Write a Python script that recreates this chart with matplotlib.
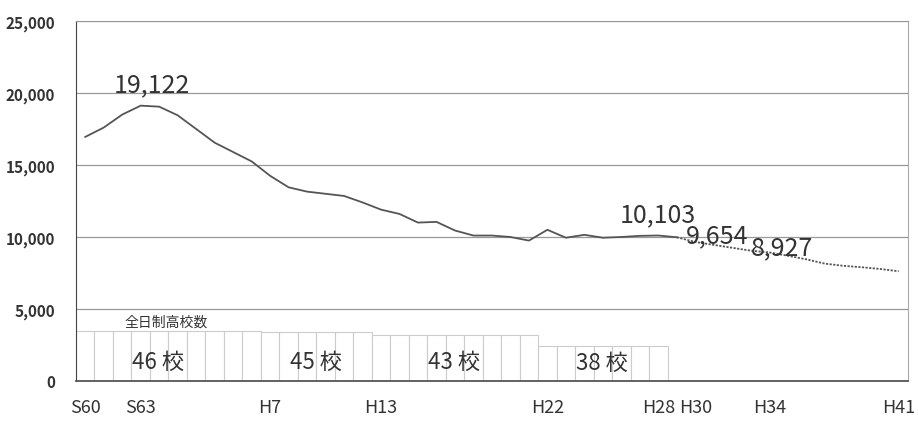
import numpy as np
import matplotlib.pyplot as plt

plt.rcParams['font.family'] = ['Noto Sans CJK JP', 'DejaVu Sans']

# 年度 (S60 = 1985 ... H41 = 2029)
years = list(range(1985, 2030))
tick_years = [1985, 1988, 1995, 2001, 2010, 2016, 2018, 2022, 2029]
tick_labels = ["S60", "S63", "H7", "H13", "H22", "H28", "H30", "H34", "H41"]

# 中学校卒業者数 実績 (S60-H29)
actual = [16950, 17600, 18500, 19122, 19050, 18450, 17500, 16550, 15900, 15250,
          14250, 13450, 13150, 13000, 12850, 12400, 11900, 11600, 11000, 11050,
          10450, 10100, 10100, 10000, 9750, 10500, 9950, 10150, 9950, 10000,
          10080, 10103, 9980]
# 推計 (H29-H41)
forecast = [9980, 9654, 9450, 9250, 9050, 8927, 8700, 8450, 8150, 8000,
            7900, 7780, 7620]

# 全日制高校数 (S60-H28)
school_counts = [46, 45, 43, 38]
school_years = [10, 6, 9, 7]
school_bar_h = [3490, 3400, 3190, 2450]

notes = [(1988, 19122, "19,122"), (2016, 10103, "10,103"),
         (2018, 9654, "9,654"), (2022, 8927, "8,927")]

x_act = np.arange(len(actual))
x_fc = np.arange(len(actual) - 1, len(actual) - 1 + len(forecast))

fig = plt.figure(figsize=(9.18, 4.27), dpi=100)
ax = fig.add_axes([0.0828, 0.1054, 0.9062, 0.8431])

# 高校数の棒
label_pos = [(3.93, 1390), (12.48, 1390), (19.97, 1390), (27.95, 1290)]
start = 0
for cnt, n, h, (lx, ly) in zip(school_counts, school_years, school_bar_h, label_pos):
    xs = np.arange(start, start + n)
    ax.bar(xs, [h] * n, width=1.0, color="white", edgecolor="#cccccc",
           linewidth=0.8, zorder=2)
    ax.text(lx, ly, f"{cnt} 校", ha="center", va="center",
            fontsize=16, color="#333333", zorder=4)
    start += n
ax.text(2.15, 4150, "全日制高校数", fontsize=10, color="#333333", ha="left",
        va="center", zorder=4)

ax.plot(x_act, actual, color="#555555", lw=1.3, zorder=3)
ax.plot(x_fc, forecast, color="#555555", lw=1.3, ls=(0, (1.2, 0.8)), zorder=3)

# 数値ラベル
offs = {"19,122": (0.6, 1020), "10,103": (0.0, 1000), "9,654": (1.2, 0),
        "8,927": (0.7, -100)}
for yr, v, s in notes:
    i = years.index(yr)
    dx, dy = offs[s]
    ax.text(i + dx, v + dy, s, fontsize=18, color="#333333", ha="center",
            va="baseline", zorder=5)

ax.set_xlim(-0.5, len(years) - 0.5)
ax.set_ylim(0, 25000)
ax.set_yticks(np.arange(0, 25001, 5000))
ax.set_yticklabels([f"{v:,}" for v in range(0, 25001, 5000)],
                   fontsize=11, fontweight="bold", color="#333333")
ax.set_xticks([years.index(y) for y in tick_years])
ax.set_xticklabels(tick_labels, fontsize=13, color="#333333")
ax.tick_params(axis="y", length=0, pad=15)
ax.tick_params(axis="x", length=0, pad=12)

ax.grid(axis="y", color="#999999", lw=0.9, zorder=1)
ax.set_axisbelow(True)
ax.spines["left"].set_color("#444444")
ax.spines["bottom"].set_color("#555555")
ax.spines["bottom"].set_linewidth(1.3)
ax.spines["top"].set_color("#999999")
ax.spines["right"].set_color("#aaaaaa")

fig.savefig("out.png", dpi=100)
